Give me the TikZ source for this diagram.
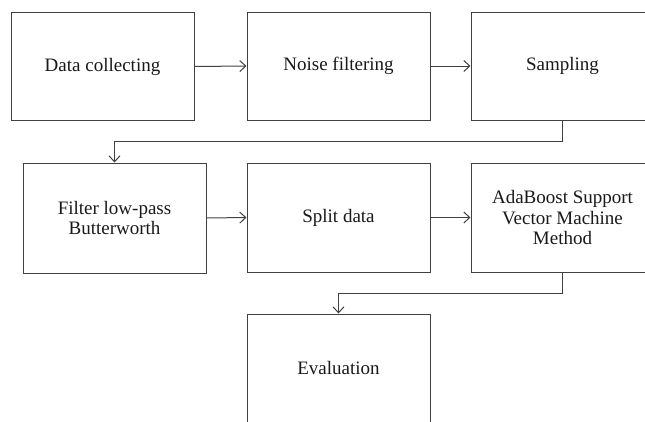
\documentclass[tikz,border=0pt]{standalone}
\usepackage{fontspec}
\setmainfont{Liberation Serif}
\usetikzlibrary{arrows.meta}
\begin{document}
\begin{tikzpicture}[x=1pt,y=-1pt,
  stepbox/.style={draw=black!75, line width=1pt, minimum width=183pt, minimum height=108pt,
    align=center, inner sep=0pt, font=\fontsize{19}{20.5}\selectfont, text=black!90},
  conn/.style={draw=black!75, line width=1pt, -{Straight Barb[length=6pt,width=11pt,line width=1pt]}}]
\useasboundingbox (0,0) rectangle (645,421);
\clip (0,0) rectangle (645,421);
\node[stepbox] (b1) at (102.5,66.5) {Data collecting};
\node[stepbox] (b2) at (338.5,66) {Noise filtering};
\node[stepbox] (b3) at (562.5,66) {Sampling};
\node[stepbox, minimum height=110pt] (b4) at (114.5,218) {Filter low-pass\\Butterworth};
\node[stepbox, minimum height=109pt] (b5) at (338.5,217.5) {Split data};
\node[stepbox, minimum height=109pt] (b6) at (562.5,217.5) {AdaBoost Support\\Vector Machine\\Method};
\node[stepbox] (b7) at (338.5,368) {Evaluation};
\draw[conn] (b1.east) -- (b2.west);
\draw[conn] (b2.east) -- (b3.west);
\draw[conn] (b4.east) -- (b5.west);
\draw[conn] (b5.east) -- (b6.west);
\draw[conn] (b3.south) -- ++(0,21) -| (b4.north);
\draw[conn] (b6.south) -- ++(0,21) -| (b7.north);
\end{tikzpicture}
\end{document}
